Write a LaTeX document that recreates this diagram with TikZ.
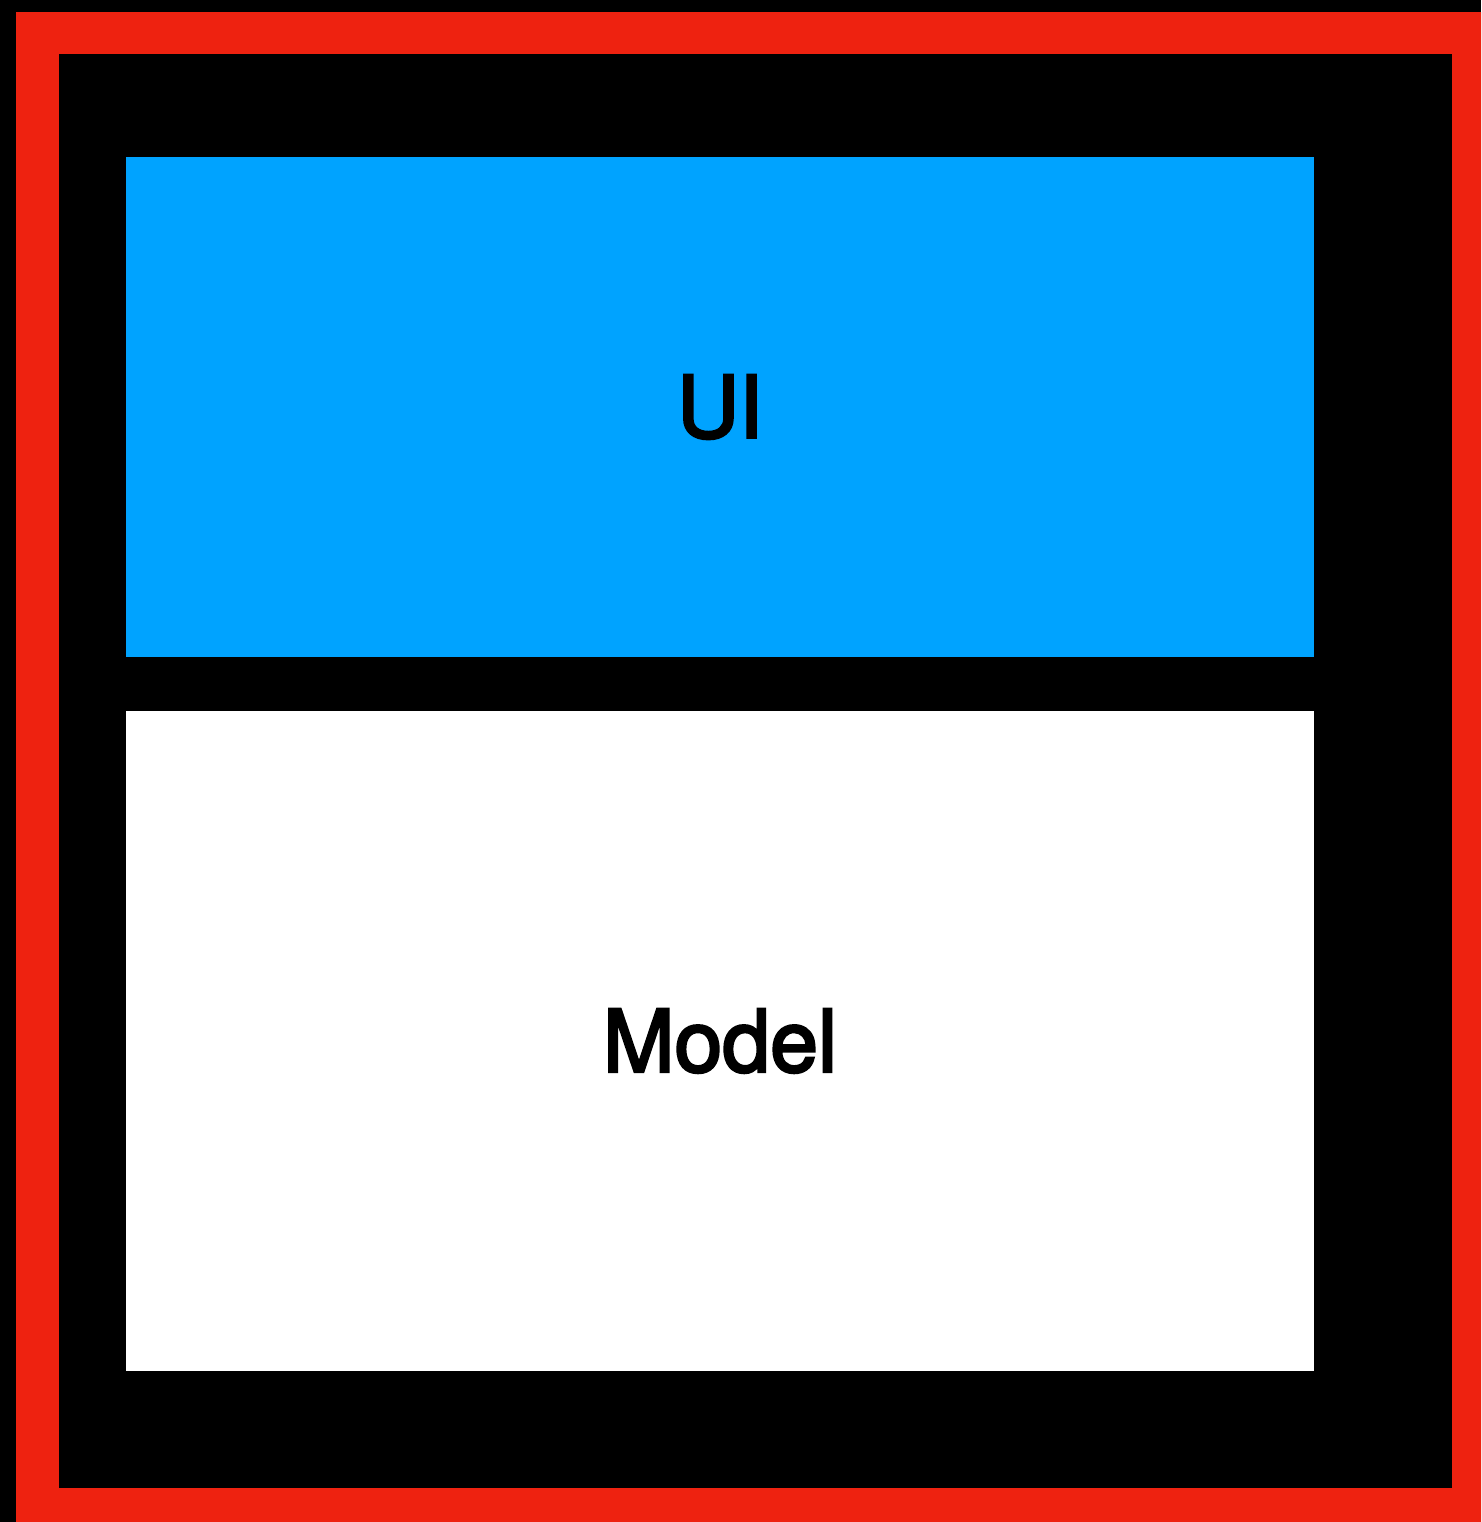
\documentclass[tikz,border=0pt]{standalone}
\usepackage{fontspec}
\setmainfont{TeX Gyre Heros}
\newfontfamily\labelfont[FakeBold=3]{TeX Gyre Heros}
\definecolor{framered}{RGB}{238,34,16}
\definecolor{uiblue}{RGB}{0,163,255}

\begin{document}
\begin{tikzpicture}[x=1pt, y=-1pt, every node/.style={draw=none, rectangle, text=black, minimum width=1188pt, inner sep=0pt, font=\labelfont\fontsize{86}{90}\selectfont}]
            \useasboundingbox (0,0) rectangle (1481,1522);
            \clip (0,0) rectangle (1481,1522);
            \fill[black] (0,0) rectangle (1481,1522);
            \draw[framered, line width=42.5pt] (37.5,33.25) rectangle (1473.5,1509);
            \node[fill=uiblue, minimum height=500pt] (ui) at (720,407) {UI};
            \node[fill=white, minimum height=660pt] (model) at (720,1041) {Model};
\end{tikzpicture}
\end{document}
